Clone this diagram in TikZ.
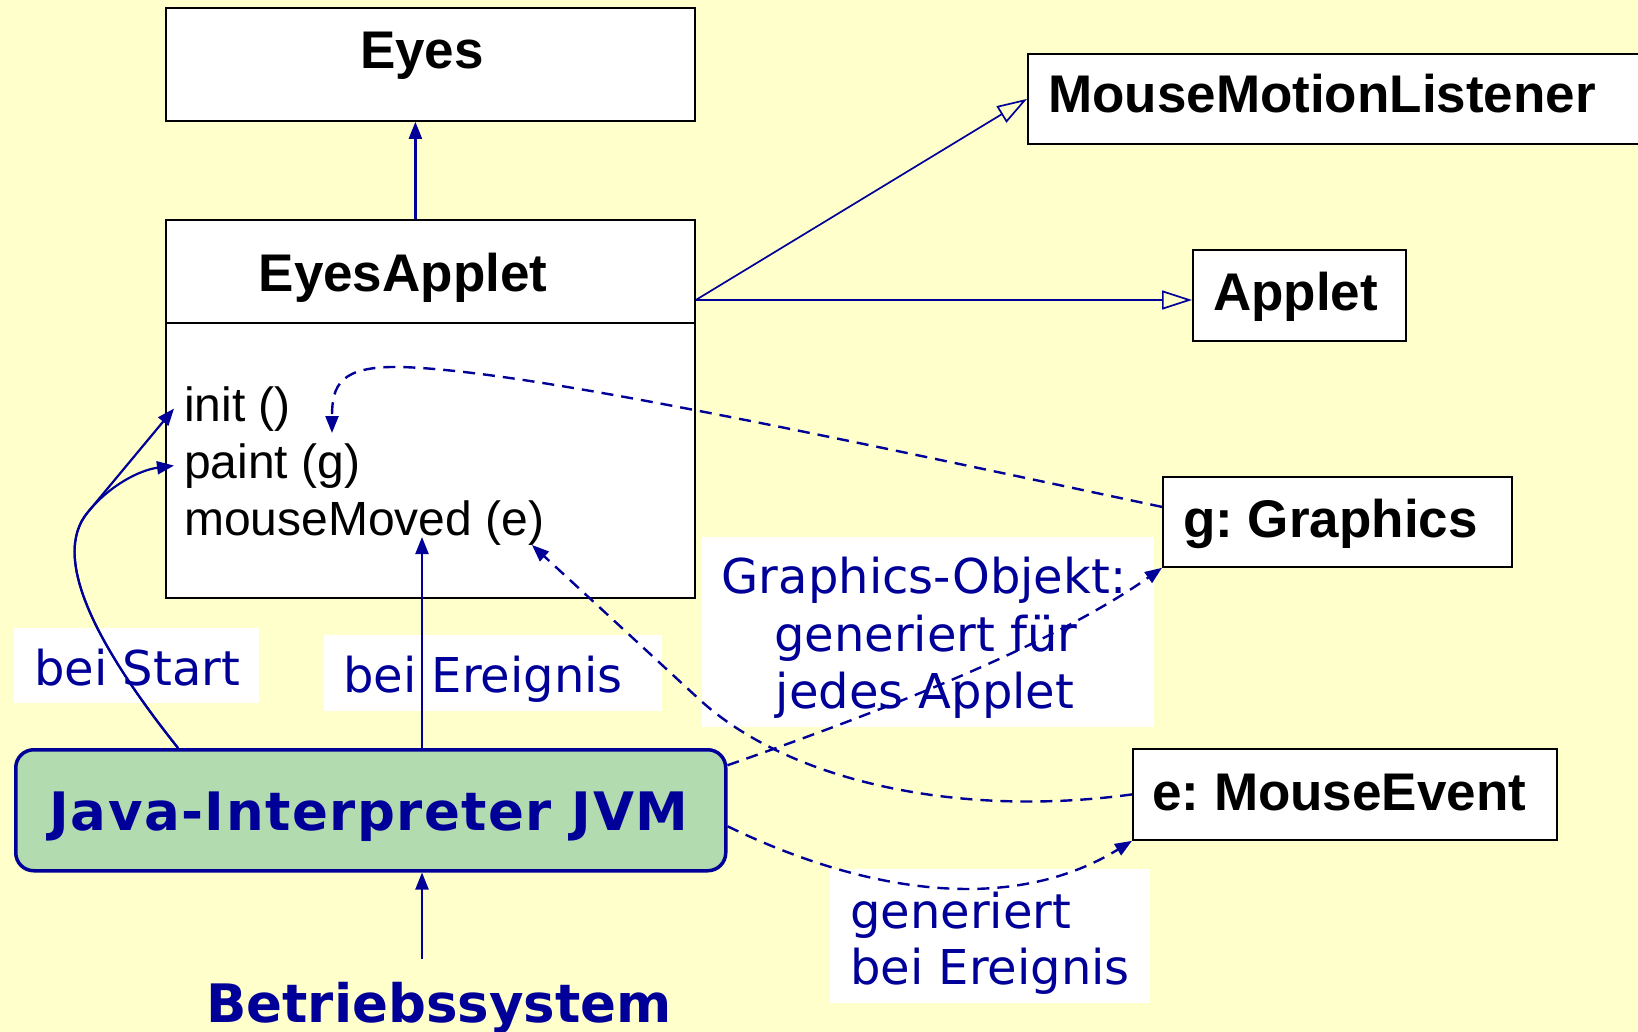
\documentclass[tikz,border=0pt]{standalone}
\usepackage{fontspec}
\setmainfont{Liberation Sans}
\newfontfamily\dejavu{DejaVu Sans}
\newfontfamily\dejavuwide{DejaVu Sans}[LetterSpace=2.8]
\usetikzlibrary{arrows.meta,calc}
\definecolor{paper}{RGB}{255,255,204}
\definecolor{navy}{RGB}{0,0,153}
\definecolor{jvmgreen}{RGB}{179,219,176}
\frenchspacing

\begin{document}
\begin{tikzpicture}[x=1pt,y=-1pt,
  umlbox/.style={draw=black,line width=1.8pt,fill=white,inner sep=0pt,anchor=north west},
  titletext/.style={font=\fontsize{53}{63}\selectfont\bfseries,inner sep=0pt,anchor=base west},
  methodtext/.style={font=\fontsize{48}{57}\selectfont,inner xsep=10pt,inner ysep=0pt,anchor=base west},
  notebox/.style={fill=white,inner sep=0pt,anchor=north west},
  notetext/.style={font=\dejavu\fontsize{48}{57}\selectfont,text=navy,inner sep=0pt},
  calltext/.style={font=\dejavu\bfseries\fontsize{53}{63}\selectfont,text=navy,inner sep=0pt},
  callarrow/.style={draw=navy,line width=2.2pt,-{Triangle[length=17pt,width=13pt]}},
  dashcall/.style={callarrow,line width=2.4pt,dash pattern=on 12pt off 8pt},
  genarrow/.style={draw=navy,line width=1.7pt,-{Triangle[open,length=30pt,width=19pt]}},
]
% canvas
\fill[paper] (0,0) rectangle (1638,1032);
\useasboundingbox (0,0) rectangle (1638,1032);

% classes
\node[umlbox,minimum width=529pt,minimum height=113pt] (eyes) at (165,7) {};
\node[titletext,anchor=base] (eyes-t) at (422,69) {Eyes};
\node[umlbox,minimum width=529pt,minimum height=378pt] (applet-cls) at (165,219) {};
\draw[line width=1.8pt] ([yshift=-104pt]applet-cls.north west) -- ([yshift=-104pt]applet-cls.north east);
\node[titletext,anchor=base] (applet-cls-t) at (403,292) {EyesApplet};
\node[methodtext] (m-init) at (174,421) {init ()};
\node[methodtext] (m-paint) at (174,478) {paint (g)};
\node[methodtext] (m-moved) at (174,535) {mouseMoved (e)};

\node[umlbox,minimum width=611pt,minimum height=90pt] (mml) at (1027,53) {};
\node[titletext] (mml-t) at (1048,113) {MouseMotionListener};
\node[umlbox,minimum width=213pt,minimum height=91pt] (applet) at (1192,249) {};
\node[titletext] (applet-t) at (1213,311) {Applet};
\node[umlbox,minimum width=349pt,minimum height=90pt] (gfx) at (1162,476) {};
\node[titletext] (gfx-t) at (1183,537) {g: Graphics};
\node[umlbox,minimum width=424pt,minimum height=91pt] (evt) at (1132,748) {};
\node[titletext] (evt-t) at (1152,810) {e: MouseEvent};

% interpreter and operating system
\node[draw=navy,line width=3.5pt,fill=jvmgreen,rounded corners=18pt,minimum width=710pt,
      minimum height=121pt,anchor=north west,inner sep=0pt] (jvm) at (14,748) {};
\node[calltext,font=\dejavuwide\bfseries\fontsize{53}{63}\selectfont,anchor=base] (jvm-t) at (369,830) {Java-Interpreter JVM};
\node[calltext,anchor=base,inner ysep=23pt] (os) at (439,1022) {Betriebssystem};

% notes
\node[notebox,minimum width=245pt,minimum height=75pt] (n-start) at (14,628) {};
\node[notetext,anchor=base west] (n-start-t) at (34,685) {bei Start};
\node[notebox,minimum width=338pt,minimum height=76pt] (n-event) at (324,635) {};
\node[notetext,anchor=base west] (n-event-t) at (343,692) {bei Ereignis};
\node[notebox,minimum width=452pt,minimum height=190pt] (n-gfx) at (702,537) {};
\node[notetext,anchor=base] (n-gfx-1) at (924,593) {Graphics-Objekt:};
\node[notetext,anchor=base] (n-gfx-2) at (926,651) {generiert für};
\node[notetext,anchor=base] (n-gfx-3) at (925,708) {jedes Applet};
\node[notebox,minimum width=320pt,minimum height=134pt] (n-gen) at (830,869) {};
\node[notetext,anchor=base west] (n-gen-1) at (850,928) {generiert};
\node[notetext,anchor=base west] (n-gen-2) at (850,984) {bei Ereignis};

% arrow ends at the method arguments
\coordinate (ev-tip) at (422,537);
\coordinate (paint-arg) at (332,433);
\coordinate (moved-arg) at (532,545);
\coordinate (cls-out) at ([yshift=-81pt]applet-cls.north east);

% inheritance and interfaces
\draw[callarrow] ([xshift=-15pt]applet-cls.north) -- ([xshift=-15pt]eyes.south);
\draw[genarrow] (cls-out) -- (mml.west);
\draw[genarrow] (cls-out) -- (cls-out -| applet.west);

% calls from the interpreter
\draw[callarrow] ([xshift=164pt]jvm.north west) .. controls (100,650) and (49,558) .. (88,512) -- (m-init.west);
\draw[callarrow] ([xshift=164pt]jvm.north west) .. controls (100,650) and (49,558) .. (88,512)
      .. controls (110,485) and (140,470) .. (m-paint.west);
\draw[callarrow] (jvm.north -| ev-tip) -- (ev-tip);
\draw[callarrow] (os.north -| ev-tip) -- (jvm.south -| ev-tip);

% objects passed as arguments
\draw[dashcall] ([yshift=15pt]gfx.west) .. controls (800,430) and (520,370) .. (400,367)
      .. controls (340,366) and (332,385) .. (paint-arg);
\draw[dashcall] ([yshift=45pt]jvm.east) .. controls (900,705) and (1060,640) .. (gfx.south west);
\draw[dashcall] (evt.west) .. controls (960,818) and (790,782) .. (700,700) -- (moved-arg);
\draw[dashcall] ([yshift=-16pt]jvm.east) .. controls (880,900) and (1020,910) .. (evt.south west);
\end{tikzpicture}
\end{document}
